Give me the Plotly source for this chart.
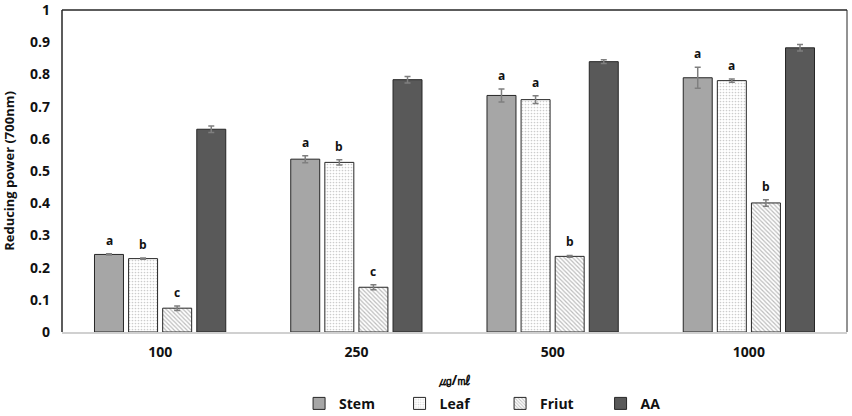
import plotly.graph_objects as go

categories = ["100", "250", "500", "1000"]
series_names = ["Stem", "Leaf", "Friut", "AA"]
stem = [0.241, 0.537, 0.735, 0.790]
leaf = [0.228, 0.527, 0.722, 0.781]
fruit = [0.074, 0.139, 0.235, 0.401]
aa = [0.630, 0.784, 0.840, 0.883]
stem_err = [0.002, 0.011, 0.020, 0.033]
leaf_err = [0.002, 0.008, 0.012, 0.005]
fruit_err = [0.007, 0.008, 0.003, 0.010]
aa_err = [0.010, 0.010, 0.006, 0.010]
stem_lbl = ["a", "a", "a", "a"]
leaf_lbl = ["b", "b", "a", "a"]
fruit_lbl = ["c", "c", "b", "b"]
y_ticks = [0, 0.1, 0.2, 0.3, 0.4, 0.5, 0.6, 0.7, 0.8, 0.9, 1]
y_tick_text = ["0", "0.1", "0.2", "0.3", "0.4", "0.5", "0.6", "0.7", "0.8", "0.9", "1"]

FONT = "Open Sans"
outline = dict(color="#262626", width=1)
err_style = dict(type="data", color="#7f7f7f", thickness=1.5, width=3, visible=True)

fig = go.Figure()
fig.add_trace(go.Bar(name="Stem", x=categories, y=stem,
                     error_y=dict(array=stem_err, **err_style),
                     marker=dict(color="#a6a6a6", line=outline)))
fig.add_trace(go.Bar(name="Leaf", x=categories, y=leaf,
                     error_y=dict(array=leaf_err, **err_style),
                     marker=dict(color="white", line=outline,
                                 pattern=dict(shape=".", fgcolor="#9a9a9a", bgcolor="white",
                                              size=3, solidity=0.25))))
fig.add_trace(go.Bar(name="Friut", x=categories, y=fruit,
                     error_y=dict(array=fruit_err, **err_style),
                     marker=dict(color="white", line=outline,
                                 pattern=dict(shape="\\", fgcolor="#7a7a7a", bgcolor="white",
                                              size=3, solidity=0.4))))
fig.add_trace(go.Bar(name="AA", x=categories, y=aa,
                     error_y=dict(array=aa_err, **err_style),
                     marker=dict(color="#595959", line=outline)))

# letters above bars (x given as category index)
slot_px = 34
annotations = []
for vals, errs, lbls, off in [(stem, stem_err, stem_lbl, -1.5 * slot_px),
                              (leaf, leaf_err, leaf_lbl, -0.5 * slot_px),
                              (fruit, fruit_err, fruit_lbl, 0.5 * slot_px)]:
    for i, (v, e, t) in enumerate(zip(vals, errs, lbls)):
        annotations.append(dict(x=i, y=v + e, text=t, showarrow=False, xref="x", yref="y",
                                xshift=off, yshift=3, yanchor="bottom",
                                font=dict(family=FONT, size=12, color="#111111", weight="bold")))

fig.update_layout(
    width=852, height=416,
    margin=dict(l=62, r=5, t=10, b=84, autoexpand=False),
    paper_bgcolor="white", plot_bgcolor="white",
    barmode="group", bargap=0.305, bargroupgap=0.15,
    font=dict(family=FONT, size=13, color="#111111"),
    annotations=annotations,
    showlegend=True,
    legend=dict(orientation="h", x=0.302, xanchor="left", y=-0.223, yanchor="middle",
                font=dict(family=FONT, size=14, weight="bold"), itemwidth=30,
                entrywidth=55.5, entrywidthmode="pixels",
                tracegroupgap=0, traceorder="normal"),
    xaxis=dict(type="category", range=[-0.5, len(categories) - 0.5], automargin=False,
               title=dict(text="㎍/㎖", font=dict(family=FONT, size=14, weight="bold"), standoff=16),
               tickfont=dict(family=FONT, size=14, weight="bold"), ticklabelstandoff=6,
               showline=True, linecolor="#d0d0d0", linewidth=1.5, ticks="", showgrid=False),
    yaxis=dict(title=dict(text="Reducing power (700nm)", font=dict(family=FONT, size=13, weight="bold"),
                          standoff=13),
               range=[0, 1.0005], tickvals=y_ticks, ticktext=y_tick_text, automargin=False,
               tickfont=dict(family=FONT, size=14, weight="bold"), ticklabelstandoff=11,
               ticklabeloverflow="allow",
               showline=False, showgrid=False, zeroline=False, ticks="", ticklen=0),
    shapes=[
        dict(type="line", xref="paper", yref="paper", x0=0, x1=1, y0=1, y1=1,
             line=dict(color="#262626", width=1.5)),
        dict(type="line", xref="paper", yref="paper", x0=0, x1=0, y0=0, y1=1,
             line=dict(color="#262626", width=1.5)),
        dict(type="line", xref="paper", yref="paper", x0=1, x1=1, y0=0, y1=1,
             line=dict(color="#262626", width=1)),
    ],
)

fig.write_html("out.html", config={"displayModeBar": False},
               post_script="document.body.style.margin='0';")
